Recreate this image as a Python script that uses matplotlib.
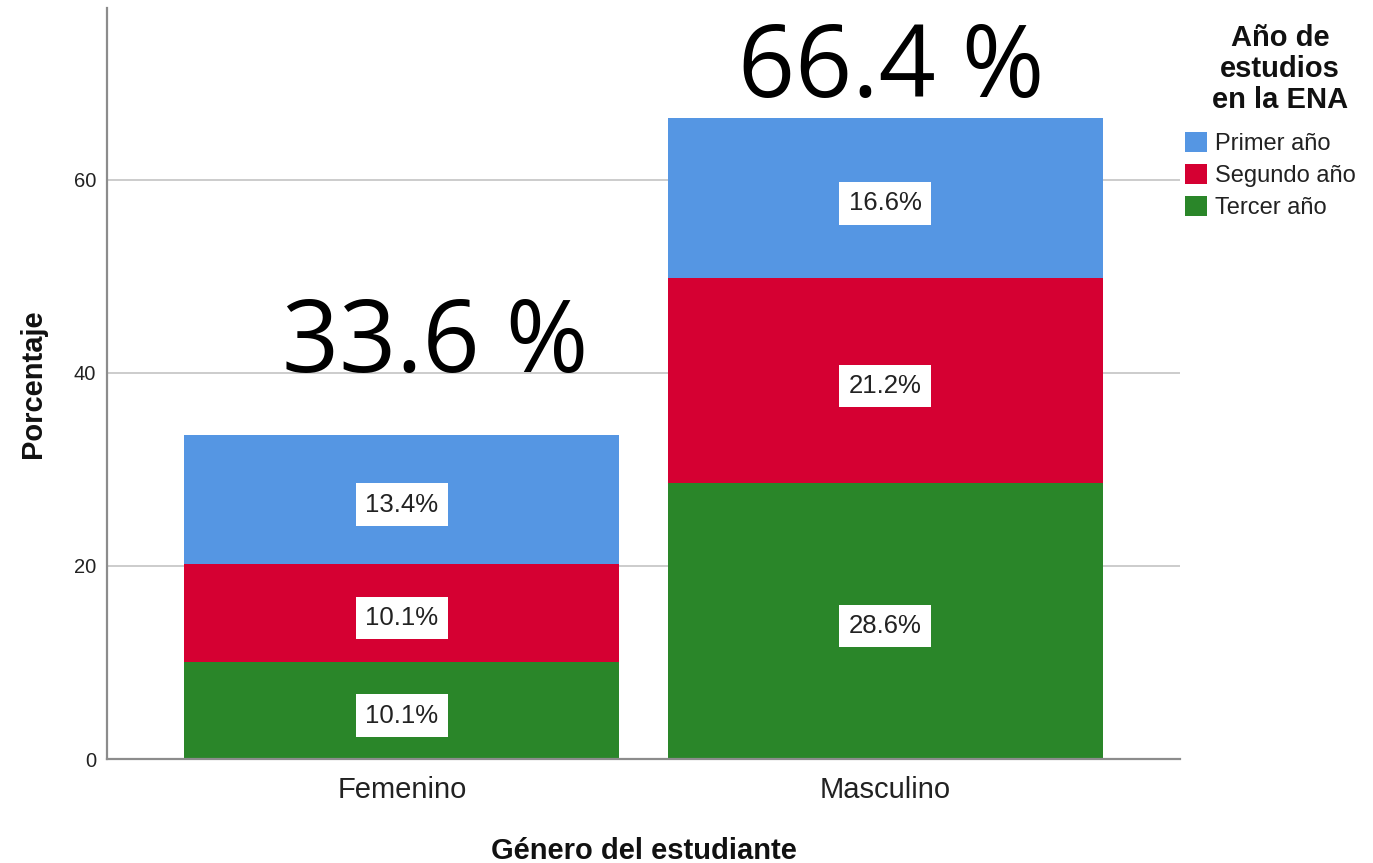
import matplotlib
matplotlib.use("Agg")
import matplotlib.pyplot as plt
import numpy as np

categories = ["Femenino", "Masculino"]
series_names = ["Primer año", "Segundo año", "Tercer año"]
tercer = [10.1, 28.6]
segundo = [10.1, 21.2]
primer = [13.4, 16.6]
totals_text = ["33.6 %", "66.4 %"]
yticks = [0, 20, 40, 60]
legend_title = "Año de\nestudios\nen la ENA"

colors = {"Primer año": "#5596E3", "Segundo año": "#D50032", "Tercer año": "#2A8629"}
# offsets (points) of the big total labels relative to the top of each bar
total_offsets = [(24, 45), (4, 15)]

plt.rcParams['font.family'] = ['Liberation Sans', 'DejaVu Sans']

fig = plt.figure(figsize=(13.73, 8.63), dpi=100)
ax = fig.add_axes([107/1373, 1 - 759/863, (1180-107)/1373, (759-8)/863])

x = np.arange(len(categories))
width = 0.9
stack = [("Tercer año", tercer), ("Segundo año", segundo), ("Primer año", primer)]
bottom = np.zeros(len(categories))
handles = {}
for name, vals in stack:
    vals = np.array(vals)
    bars = ax.bar(x, vals, width, bottom=bottom, color=colors[name], zorder=2,
                  edgecolor='none', label=name)
    handles[name] = bars
    for xi, b, v in zip(x, bottom, vals):
        ax.annotate(f"{v:.1f}%", xy=(xi, b + v/2), xytext=(0, -2), textcoords='offset points',
                    ha='center', va='center_baseline', fontsize=18.5,
                    color='#222222', zorder=3,
                    bbox=dict(boxstyle='square,pad=0.36', facecolor='white', edgecolor='none'))
    bottom = bottom + vals

for xi, tot, txt, off in zip(x, bottom, totals_text, total_offsets):
    ax.annotate(txt, xy=(xi, tot), xytext=off, textcoords='offset points',
                ha='center', va='baseline', fontsize=72, family=['Open Sans', 'DejaVu Sans'],
                color='black', zorder=4, annotation_clip=False)

ax.set_xlim(-0.61, 1.61)
ax.set_ylim(0, 77.8)
ax.set_yticks(yticks)
ax.set_xticks(x)
ax.set_xticklabels(categories)
ax.tick_params(axis='both', length=0, colors='#222222')
ax.tick_params(axis='y', labelsize=14.5, pad=8)
ax.tick_params(axis='x', labelsize=21, pad=12)
ax.yaxis.grid(True, color='#c4c4c4', linewidth=1.2, zorder=0)
ax.set_axisbelow(True)
for s in ['top', 'right']:
    ax.spines[s].set_visible(False)
for s in ['left', 'bottom']:
    ax.spines[s].set_color('#8c8c8c')
    ax.spines[s].set_linewidth(1.6)

ax.set_xlabel("Género del estudiante", fontsize=21, fontweight='bold', color='#111111')
ax.set_ylabel("Porcentaje", fontsize=21, fontweight='bold', color='#111111')
ax.xaxis.set_label_coords(0.5, -0.104)
ax.yaxis.set_label_coords(-0.056, 0.5)

fig.text(1280/1373, 1 - 69/863, legend_title, ha='center', va='center',
         multialignment='center', fontsize=21, fontweight='bold', linespacing=1.12,
         color='#111111')

leg = fig.legend([handles[n] for n in series_names], series_names,
                 loc='upper left', bbox_to_anchor=(1185/1373, 1 - 132/863),
                 frameon=False, fontsize=17,
                 handlelength=0.95, handleheight=0.95, handletextpad=0.3,
                 labelspacing=0.36, borderpad=0, borderaxespad=0)
for t in leg.get_texts():
    t.set_color('#222222')

fig.savefig("out.png", dpi=100)
